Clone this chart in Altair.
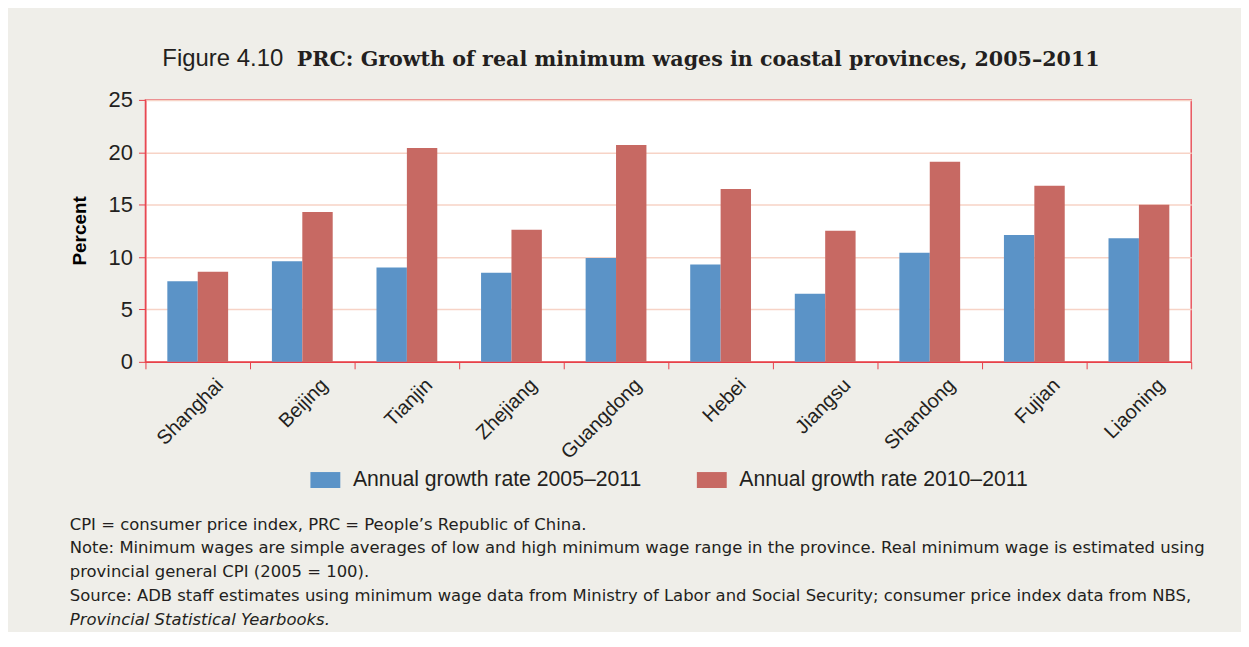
import altair as alt
import pandas as pd

provinces = ["Shanghai", "Beijing", "Tianjin", "Zhejiang", "Guangdong",
             "Hebei", "Jiangsu", "Shandong", "Fujian", "Liaoning"]
series_names = ["Annual growth rate 2005\u20132011", "Annual growth rate 2010\u20132011"]
growth_2005_2011 = [7.7, 9.6, 9.0, 8.5, 9.9, 9.3, 6.5, 10.4, 12.1, 11.8]
growth_2010_2011 = [8.6, 14.3, 20.4, 12.6, 20.7, 16.5, 12.5, 19.1, 16.8, 15.0]
y_ticks = [0, 5, 10, 15, 20, 25]
colors = ["#5b93c7", "#c76963"]

title_prefix = "Figure 4.10"
title_main = "PRC: Growth of real minimum wages in coastal provinces, 2005\u20132011"
notes = [
    "CPI = consumer price index, PRC = People\u2019s Republic of China.",
    "Note: Minimum wages are simple averages of low and high minimum wage range in the province. Real minimum wage is estimated using",
    "provincial general CPI (2005 = 100).",
    "Source: ADB staff estimates using minimum wage data from Ministry of Labor and Social Security; consumer price index data from NBS,",
]
note_italic = "Provincial Statistical Yearbooks."

rows = []
for i, p in enumerate(provinces):
    rows.append({"province": p, "series": series_names[0], "value": growth_2005_2011[i]})
    rows.append({"province": p, "series": series_names[1], "value": growth_2010_2011[i]})
df = pd.DataFrame(rows)

SANS = "Liberation Sans, Arial, sans-serif"
NOTE_FONT = "DejaVu Sans, sans-serif"
RED = "#e8404a"
TXT = "#231f20"

bars = alt.Chart(df).mark_bar().encode(
    x=alt.X("province:N", sort=provinces,
            scale=alt.Scale(paddingInner=0, paddingOuter=0),
            axis=alt.Axis(title=None, labelAngle=-45, labelAlign="right",
                          labelBaseline="middle", labelFont=SANS, labelFontSize=20,
                          labelColor=TXT, labelOffset=22, labelPadding=13,
                          tickBand="extent", ticks=True, tickSize=7, tickColor=RED,
                          domainColor=RED, domainWidth=1.5, grid=False)),
    xOffset=alt.XOffset("series:N", sort=series_names,
                        scale=alt.Scale(paddingInner=0, paddingOuter=0.72)),
    y=alt.Y("value:Q", scale=alt.Scale(domain=[0, 25], nice=False),
            axis=alt.Axis(values=y_ticks, title="Percent", titleFont=SANS,
                          titleFontSize=19, titleFontWeight="bold", titleColor="#000000",
                          titleAngle=270, titleX=-66, titleY=131, titleAlign="center",
                          titleBaseline="middle",
                          labelFont=SANS, labelFontSize=22, labelColor=TXT,
                          labelPadding=6, tickSize=7, tickColor=RED, domainColor=RED,
                          domainWidth=1, grid=True, gridColor="#f7d3c6", gridWidth=1.5)),
    color=alt.Color("series:N", sort=series_names,
                    scale=alt.Scale(domain=series_names, range=colors),
                    legend=alt.Legend(title=None, orient="none", direction="horizontal",
                                      legendX=170, legendY=371, padding=0,
                                      symbolType="M-1.5,-0.8H1.5V0.8H-1.5Z",
                                      symbolSize=400, symbolStrokeWidth=0,
                                      symbolOpacity=1,
                                      labelFont=SANS, labelFontSize=21.3, labelColor=TXT,
                                      labelOffset=17, columnPadding=54,
                                      labelLimit=400)),
)


def txt(s, x, y, size, font, weight="normal", style="normal"):
    return alt.Chart(pd.DataFrame({"t": [s]})).mark_text(
        align="left", baseline="alphabetic", font=font, fontSize=size,
        fontWeight=weight, fontStyle=style, color=TXT
    ).encode(text="t:N", x=alt.value(x), y=alt.value(y))


texts = [
    txt(title_prefix, 17, -34, 24, SANS),
    txt(title_main, 152, -34, 20.7, "DejaVu Serif, serif", weight="bold"),
]
note_y = [432, 455, 479, 503]
for s, yy in zip(notes, note_y):
    texts.append(txt(s, -76, yy, 16.5, NOTE_FONT))
texts.append(txt(note_italic, -76, 527, 16.5, NOTE_FONT, style="italic"))

chart = alt.layer(bars, *texts).properties(
    width=1050, height=263,
    autosize=alt.AutoSizeParams(type="none"),
    padding={"left": 138, "top": 91, "right": 50, "bottom": 270},
    background="#efeee9",
).configure_view(stroke="#e8555e", strokeWidth=1.5, fill="white")

chart.save("out.html", embed_options={"renderer": "svg", "actions": False})
